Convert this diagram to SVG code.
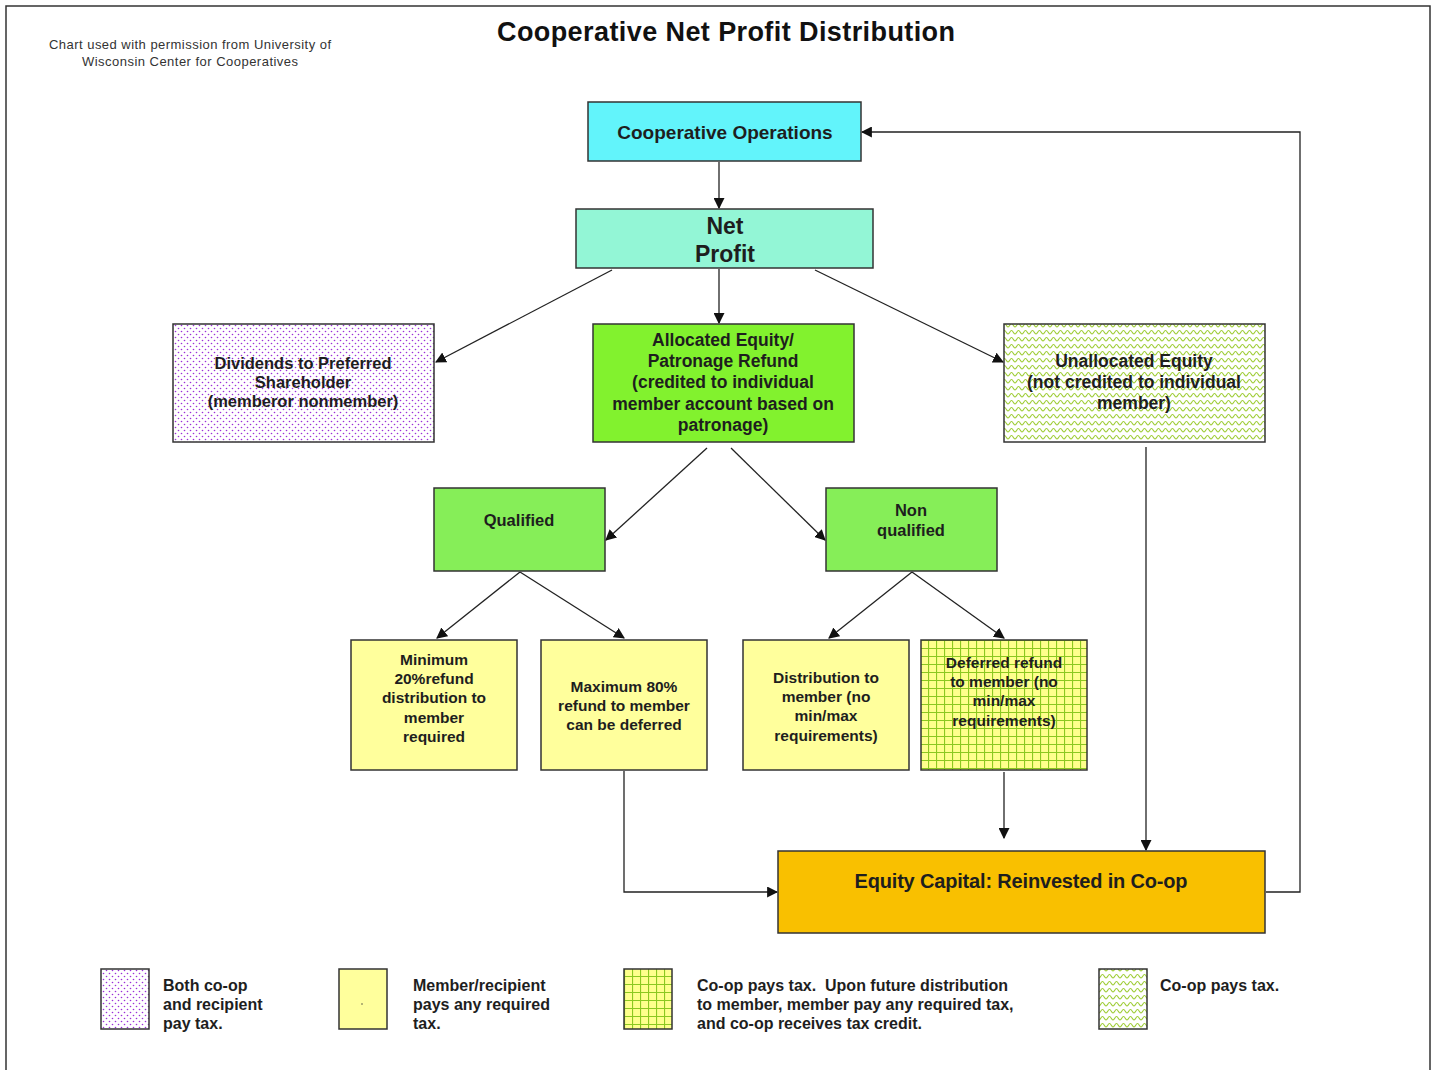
<svg xmlns="http://www.w3.org/2000/svg" width="1437" height="1070" viewBox="0 0 1437 1070">
<style>
.box{stroke:#333;stroke-width:1.5}
.t{font-family:"Liberation Sans",Arial,sans-serif;font-weight:bold;fill:#1e1e1e;text-anchor:middle}
.lg{font-family:"Liberation Sans",Arial,sans-serif;font-weight:bold;fill:#1e1e1e;font-size:16px}
.c{stroke:#222;stroke-width:1.3;fill:none}
.ca{stroke:#222;stroke-width:1.3;fill:none;marker-end:url(#ah)}
</style>
<defs>
<marker id="ah" viewBox="0 0 10 10" refX="9" refY="5" markerWidth="11" markerHeight="11" markerUnits="userSpaceOnUse" orient="auto">
<path d="M0,0 L10,5 L0,10 z" fill="#111"/>
</marker>
<pattern id="dots" width="6" height="6" patternUnits="userSpaceOnUse">
<rect width="6" height="6" fill="#fff"/>
<circle cx="1.5" cy="1.5" r="0.8" fill="#9b30d9"/>
<circle cx="4.5" cy="4.5" r="0.8" fill="#9b30d9"/>
</pattern>
<pattern id="grid" width="8" height="8" patternUnits="userSpaceOnUse">
<rect width="8" height="8" fill="#ffff8c"/>
<path d="M0,0.5 H8 M0.5,0 V8" stroke="#8cc820" stroke-width="1.2"/>
</pattern>
<pattern id="zig" width="7" height="7" patternUnits="userSpaceOnUse">
<rect width="7" height="7" fill="#fff"/>
<path d="M0,5 C1.5,5 2,1.5 3.5,1.5 C5,1.5 5.5,5 7,5" stroke="#9ccc30" stroke-width="1.1" fill="none"/>
</pattern>
</defs>
<rect x="0" y="0" width="1437" height="1070" fill="#fff"/>
<rect x="6" y="6" width="1424" height="1080" fill="none" stroke="#333" stroke-width="1.5"/>

<text x="726" y="41" font-family="'Liberation Sans',Arial,sans-serif" font-weight="bold" font-size="27" fill="#111" text-anchor="middle" textLength="458">Cooperative Net Profit Distribution</text>
<g font-family="'Liberation Sans',Arial,sans-serif" font-size="13" fill="#333" text-anchor="middle">
<text x="190" y="49" textLength="282">Chart used with permission  from University of</text>
<text x="190" y="66" textLength="216">Wisconsin Center  for Cooperatives</text>
</g>

<g id="connectors">
<path class="ca" d="M719,162 V208"/>
<path class="ca" d="M719,269 V323"/>
<path class="ca" d="M612,270 L436,362"/>
<path class="ca" d="M815,270 L1003,362"/>
<path class="ca" d="M707,448 L606,540"/>
<path class="ca" d="M731,448 L825,540"/>
<path class="ca" d="M520,572 L437,638"/>
<path class="ca" d="M520,572 L624,638"/>
<path class="ca" d="M912,572 L829,638"/>
<path class="ca" d="M912,572 L1004,638"/>
<path class="ca" d="M624,771 V892 H777"/>
<path class="ca" d="M1004,772 V838"/>
<path class="ca" d="M1146,447 V850"/>
<path class="ca" d="M1266,892 H1300 V132 H862"/>
</g>

<g id="coop-operations">
<rect class="box" x="588" y="102" width="273" height="59" fill="#62f4fb"/>
<text class="t" x="725" y="139" font-size="19">Cooperative Operations</text>
</g>
<g id="net-profit">
<rect class="box" x="576" y="209" width="297" height="59" fill="#93f6d6"/>
<text class="t" x="725" y="234" font-size="23">Net</text>
<text class="t" x="725" y="262" font-size="23">Profit</text>
</g>
<g id="dividends">
<rect class="box" x="173" y="324" width="261" height="118" fill="url(#dots)"/>
<g class="t" font-size="16.5">
<text x="303" y="369">Dividends to Preferred</text>
<text x="303" y="388">Shareholder</text>
<text x="303" y="407">(memberor nonmember)</text>
</g>
</g>
<g id="allocated-equity">
<rect class="box" x="593" y="324" width="261" height="118" fill="#82f22e"/>
<g class="t" font-size="17.5">
<text x="723" y="346">Allocated Equity/</text>
<text x="723" y="367">Patronage Refund</text>
<text x="723" y="388">(credited to individual</text>
<text x="723" y="410">member account based on</text>
<text x="723" y="431">patronage)</text>
</g>
</g>
<g id="unallocated-equity">
<rect class="box" x="1004" y="324" width="261" height="118" fill="url(#zig)"/>
<g class="t" font-size="17.5">
<text x="1134" y="367">Unallocated Equity</text>
<text x="1134" y="388">(not credited to individual</text>
<text x="1134" y="409">member)</text>
</g>
</g>
<g id="qualified">
<rect class="box" x="434" y="488" width="171" height="83" fill="#86ee58"/>
<text class="t" x="519" y="526" font-size="16.5">Qualified</text>
</g>
<g id="non-qualified">
<rect class="box" x="826" y="488" width="171" height="83" fill="#86ee58"/>
<text class="t" x="911" y="516" font-size="16.5">Non</text>
<text class="t" x="911" y="536" font-size="16.5">qualified</text>
</g>
<g id="minimum-refund">
<rect class="box" x="351" y="640" width="166" height="130" fill="#ffff9c"/>
<g class="t" font-size="15.5">
<text x="434" y="665">Minimum</text>
<text x="434" y="684">20%refund</text>
<text x="434" y="703">distribution to</text>
<text x="434" y="723">member</text>
<text x="434" y="742">required</text>
</g>
</g>
<g id="maximum-refund">
<rect class="box" x="541" y="640" width="166" height="130" fill="#ffff9c"/>
<g class="t" font-size="15.5">
<text x="624" y="692">Maximum 80%</text>
<text x="624" y="711">refund to member</text>
<text x="624" y="730">can be deferred</text>
</g>
</g>
<g id="distribution">
<rect class="box" x="743" y="640" width="166" height="130" fill="#ffff9c"/>
<g class="t" font-size="15.5">
<text x="826" y="683">Distribution to</text>
<text x="826" y="702">member (no</text>
<text x="826" y="721">min/max</text>
<text x="826" y="741">requirements)</text>
</g>
</g>
<g id="deferred-refund">
<rect class="box" x="921" y="640" width="166" height="130" fill="url(#grid)"/>
<g class="t" font-size="15.5">
<text x="1004" y="668">Deferred refund</text>
<text x="1004" y="687">to member (no</text>
<text x="1004" y="706">min/max</text>
<text x="1004" y="726">requirements)</text>
</g>
</g>
<g id="equity-capital">
<rect class="box" x="778" y="851" width="487" height="82" fill="#f9c000"/>
<text class="t" x="1021" y="888" font-size="20" textLength="333">Equity Capital: Reinvested in Co-op</text>
</g>

<g id="legend">
<rect class="box" x="101" y="969" width="48" height="60" fill="url(#dots)"/>
<text class="lg" x="163" y="991">Both co-op</text>
<text class="lg" x="163" y="1010">and recipient</text>
<text class="lg" x="163" y="1029">pay tax.</text>
<rect class="box" x="339" y="969" width="48" height="60" fill="#ffff9c"/>
<circle cx="362" cy="1004" r="0.7" fill="#333"/>
<text class="lg" x="413" y="991">Member/recipient</text>
<text class="lg" x="413" y="1010">pays any required</text>
<text class="lg" x="413" y="1029">tax.</text>
<rect class="box" x="624" y="969" width="48" height="60" fill="url(#grid)"/>
<text class="lg" x="697" y="991" xml:space="preserve">Co-op pays tax.  Upon future distribution</text>
<text class="lg" x="697" y="1010">to member, member pay any required tax,</text>
<text class="lg" x="697" y="1029">and co-op receives tax credit.</text>
<rect class="box" x="1099" y="969" width="48" height="60" fill="url(#zig)"/>
<text class="lg" x="1160" y="991">Co-op pays tax.</text>
</g>
</svg>
